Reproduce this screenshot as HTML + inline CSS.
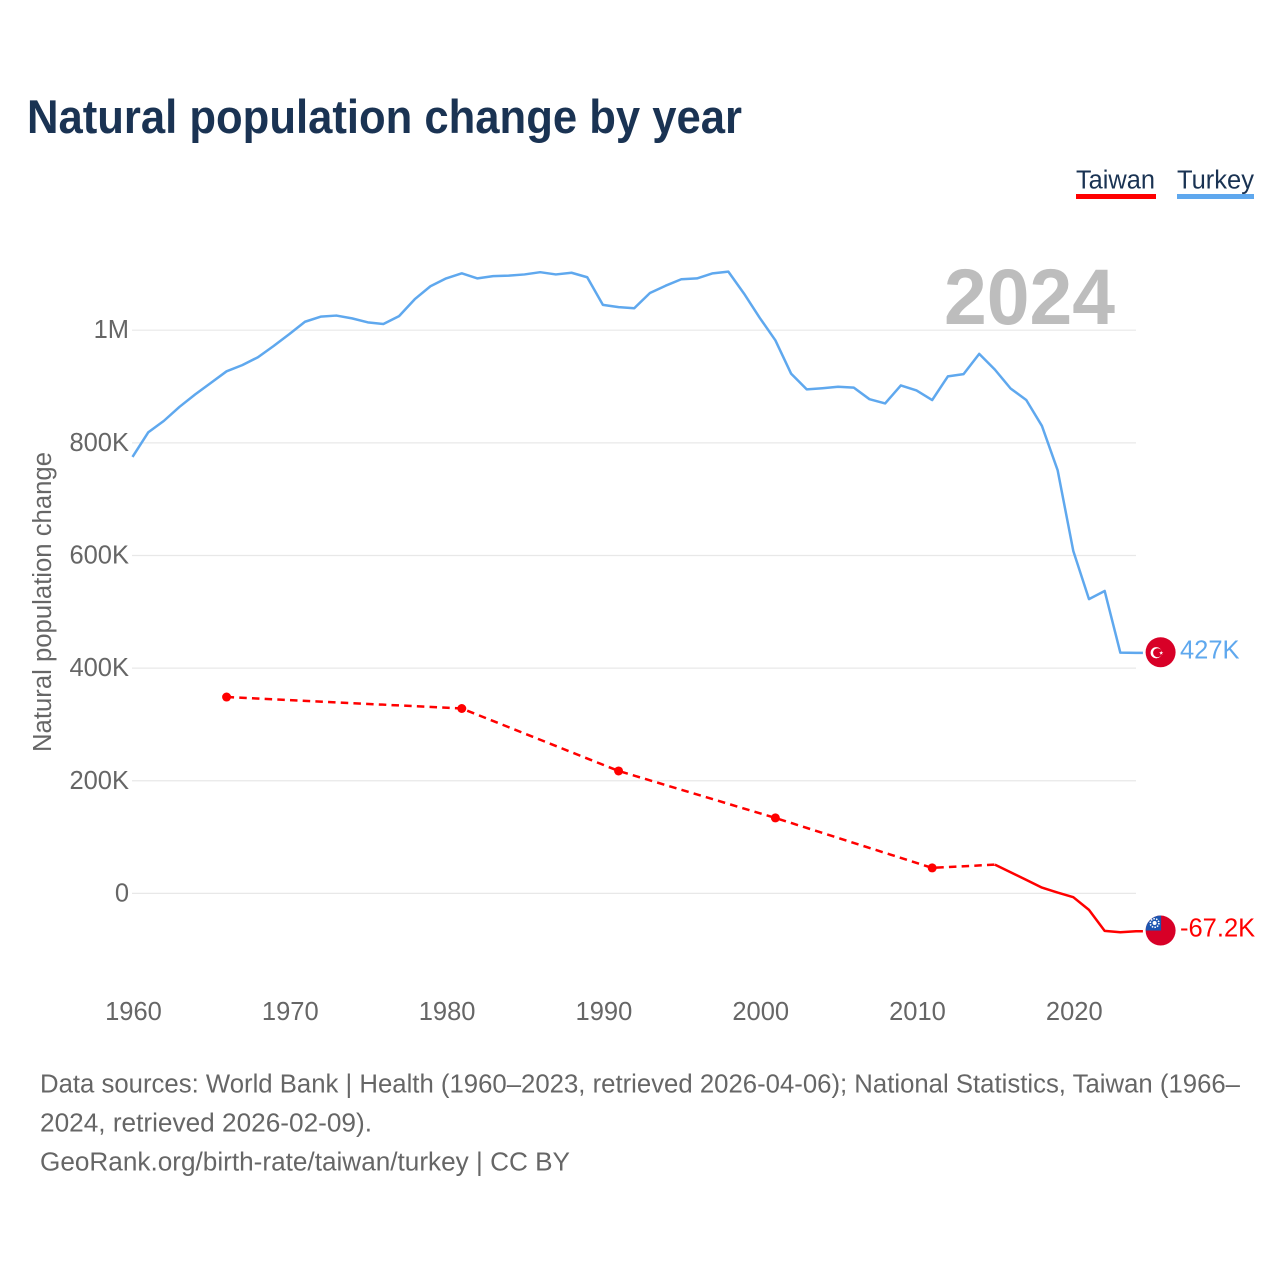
<!DOCTYPE html>
<html lang="en">
<head>
<meta charset="utf-8">
<title>Natural population change by year</title>
<style>
  html, body { margin: 0; padding: 0; background: #ffffff; }
  svg { display: block; font-family: "Liberation Sans", Arial, sans-serif; }
</style>
</head>
<body>
<svg id="chart" xmlns="http://www.w3.org/2000/svg" width="1280" height="1280" viewBox="0 0 1280 1280">
  <defs>
    <clipPath id="taiwan-clip"><circle cx="0" cy="0" r="15"></circle></clipPath>
  </defs>
  <rect x="0" y="0" width="1280" height="1280" fill="#ffffff"></rect>

  <text x="27" y="133" font-size="47" font-weight="700" fill="#1a3353" textLength="715" lengthAdjust="spacingAndGlyphs">Natural population change by year</text>

  <g>
    <g>
      <text x="1076" y="188.5" font-size="25.5" fill="#1a3353" textLength="79" lengthAdjust="spacingAndGlyphs">Taiwan</text>
      <rect x="1076" y="194" width="80" height="5" fill="#ff0000"></rect>
    </g>
    <g>
      <text x="1177" y="188.5" font-size="25.5" fill="#1a3353" textLength="77" lengthAdjust="spacingAndGlyphs">Turkey</text>
      <rect x="1177" y="194" width="77" height="5" fill="#5fa8ee"></rect>
    </g>
  </g>

  <g id="grid"></g>
  <g id="y-ticks"></g>
  <g id="x-ticks"></g>

  <text transform="translate(51 602) rotate(-90)" text-anchor="middle" font-size="25.5" fill="#666666" textLength="300" lengthAdjust="spacingAndGlyphs">Natural population change</text>

  <text x="944" y="324" font-size="79" font-weight="700" fill="#bdbdbd" textLength="171" lengthAdjust="spacingAndGlyphs">2024</text>

  <g id="series"></g>

  <g id="flag-turkey">
    <circle cx="0" cy="0" r="15" fill="#d80027"></circle>
    <circle cx="-4.4" cy="0.5" r="5.6" fill="#ffffff"></circle>
    <circle cx="-3" cy="0.5" r="4.5" fill="#d80027"></circle>
    <polygon points="0.6,-1.5 1.1,0 2.7,0 1.4,1 1.9,2.5 0.6,1.6 -0.7,2.5 -0.2,1 -1.5,0 0.1,0" fill="#ffffff"></polygon>
  </g>
  <g id="flag-taiwan">
    <circle cx="0" cy="0" r="15" fill="#d80027"></circle>
    <g clip-path="url(#taiwan-clip)">
      <rect x="-15" y="-15" width="15.5" height="15" fill="#1c55b0"></rect>
    </g>
    <circle cx="-6" cy="-7.5" r="4.3" fill="none" stroke="#ffffff" stroke-width="1.6" stroke-dasharray="1.5 1.2"></circle>
    <circle cx="-6" cy="-7.5" r="2" fill="#ffffff"></circle>
  </g>

  <text id="end-label-turkey" x="1180" y="658.5" font-size="25.5" fill="#5fa8ee"></text>
  <text id="end-label-taiwan" x="1180" y="937" font-size="25.5" fill="#ff0000"></text>

  <g font-size="25.5" fill="#666666">
    <text x="40" y="1092.5" textLength="1200" lengthAdjust="spacingAndGlyphs">Data sources: World Bank | Health (1960–2023, retrieved 2026-04-06); National Statistics, Taiwan (1966–</text>
    <text x="40" y="1131.5" textLength="332" lengthAdjust="spacingAndGlyphs">2024, retrieved 2026-02-09).</text>
    <text x="40" y="1170.5" textLength="530" lengthAdjust="spacingAndGlyphs">GeoRank.org/birth-rate/taiwan/turkey | CC BY</text>
  </g>
</svg>

<script>
const yTickValues = [0, 200, 400, 600, 800, 1000];
const yTickLabels = ["0", "200K", "400K", "600K", "800K", "1M"];
const xTickValues = [1960, 1970, 1980, 1990, 2000, 2010, 2020];
const xTickLabels = ["1960", "1970", "1980", "1990", "2000", "2010", "2020"];

const turkeyYears = [1960,1961,1962,1963,1964,1965,1966,1967,1968,1969,1970,1971,1972,1973,1974,1975,1976,1977,1978,1979,1980,1981,1982,1983,1984,1985,1986,1987,1988,1989,1990,1991,1992,1993,1994,1995,1996,1997,1998,1999,2000,2001,2002,2003,2004,2005,2006,2007,2008,2009,2010,2011,2012,2013,2014,2015,2016,2017,2018,2019,2020,2021,2022,2023,2024];
const turkeyValues = [775,818.5,839,864,886,906.5,927,938,952,972,993,1015,1024,1026,1021,1014,1011,1025,1055,1078,1092,1101,1092,1096,1097,1099,1103,1099,1102,1094,1045,1041,1039,1066,1079,1090.5,1092,1101,1104,1065,1022,982,923,895,897,899.5,898,877.5,870,902,893,876,918,922,958,930,896.5,876,830,751.5,608,522.5,537,427.5,427];

const taiwanDashedYears = [1966,1981,1991,2001,2011,2015];
const taiwanDashedValues = [348.7,328.3,217.4,134,45.3,51.1];
const taiwanDotYears = [1966,1981,1991,2001,2011];
const taiwanDotValues = [348.7,328.3,217.4,134,45.3];
const taiwanSolidYears = [2015,2016,2017,2018,2019,2020,2021,2022,2023,2024];
const taiwanSolidValues = [51.1,37.6,24,10.3,1.4,-6.7,-29.3,-66.5,-68.9,-67.2];

const turkeyEndLabel = "427K";
const taiwanEndLabel = "-67.2K";

const SVG_NS = "http://www.w3.org/2000/svg";
const xScale = function (year) { return 132.5 + (year - 1960) * 15.68; };
const yScale = function (value) { return 893.4 - value * 0.5632; };
const flagX = 1160.6;
const flagDy = -0.7;
const connectorYear = 2024.44;

function pathFrom(years, values) {
  return years.map(function (yr, i) {
    return (i ? "L" : "M") + xScale(yr).toFixed(2) + " " + yScale(values[i]).toFixed(2);
  }).join(" ");
}

const gridLayer = document.getElementById("grid");
const yTickLayer = document.getElementById("y-ticks");
const xTickLayer = document.getElementById("x-ticks");
const seriesLayer = document.getElementById("series");

yTickValues.forEach(function (v, i) {
  const line = document.createElementNS(SVG_NS, "line");
  
  
  line.setAttribute("x1", 132);
  line.setAttribute("x2", 1136);
  line.setAttribute("y1", yScale(v));
  line.setAttribute("y2", yScale(v));
  line.setAttribute("stroke", "#e8e8e8");
  line.setAttribute("stroke-width", "1.2");
  gridLayer.appendChild(line);

  const label = document.createElementNS(SVG_NS, "text");
  
  
  label.setAttribute("x", 129);
  label.setAttribute("y", yScale(v) + 8);
  label.setAttribute("text-anchor", "end");
  label.setAttribute("font-size", "25.5");
  label.setAttribute("fill", "#666666");
  label.textContent = yTickLabels[i];
  yTickLayer.appendChild(label);
});

xTickValues.forEach(function (yr, i) {
  const label = document.createElementNS(SVG_NS, "text");
  
  
  label.setAttribute("x", xScale(yr) + 1);
  label.setAttribute("y", 1020);
  label.setAttribute("text-anchor", "middle");
  label.setAttribute("font-size", "25.5");
  label.setAttribute("fill", "#666666");
  label.textContent = xTickLabels[i];
  xTickLayer.appendChild(label);
});

const turkeyLine = document.createElementNS(SVG_NS, "path");


turkeyLine.setAttribute("d", pathFrom(turkeyYears.concat([connectorYear]), turkeyValues.concat([turkeyValues[turkeyValues.length - 1]])));
turkeyLine.setAttribute("fill", "none");
turkeyLine.setAttribute("stroke", "#5fa8ee");
turkeyLine.setAttribute("stroke-width", "2.5");
turkeyLine.setAttribute("stroke-linejoin", "round");
seriesLayer.appendChild(turkeyLine);

const taiwanDashed = document.createElementNS(SVG_NS, "path");


taiwanDashed.setAttribute("d", pathFrom(taiwanDashedYears, taiwanDashedValues));
taiwanDashed.setAttribute("fill", "none");
taiwanDashed.setAttribute("stroke", "#ff0000");
taiwanDashed.setAttribute("stroke-width", "2.5");
taiwanDashed.setAttribute("stroke-dasharray", "7.5 5.2");
seriesLayer.appendChild(taiwanDashed);

const taiwanSolid = document.createElementNS(SVG_NS, "path");


taiwanSolid.setAttribute("d", pathFrom(taiwanSolidYears.concat([connectorYear]), taiwanSolidValues.concat([taiwanSolidValues[taiwanSolidValues.length - 1]])));
taiwanSolid.setAttribute("fill", "none");
taiwanSolid.setAttribute("stroke", "#ff0000");
taiwanSolid.setAttribute("stroke-width", "2.5");
taiwanSolid.setAttribute("stroke-linejoin", "round");
seriesLayer.appendChild(taiwanSolid);

taiwanDotYears.forEach(function (yr, i) {
  const dot = document.createElementNS(SVG_NS, "circle");
  
  
  dot.setAttribute("cx", xScale(yr));
  dot.setAttribute("cy", yScale(taiwanDotValues[i]));
  dot.setAttribute("r", "4.5");
  dot.setAttribute("fill", "#ff0000");
  seriesLayer.appendChild(dot);
});

const lastTurkey = turkeyValues[turkeyValues.length - 1];
const lastTaiwan = taiwanSolidValues[taiwanSolidValues.length - 1];
document.getElementById("flag-turkey").setAttribute("transform", "translate(" + flagX + " " + (yScale(lastTurkey) + flagDy) + ")");
document.getElementById("flag-taiwan").setAttribute("transform", "translate(" + flagX + " " + (yScale(lastTaiwan) + flagDy) + ")");
document.getElementById("end-label-turkey").textContent = turkeyEndLabel;
document.getElementById("end-label-turkey").setAttribute("y", yScale(lastTurkey) + 5.5);
document.getElementById("end-label-taiwan").textContent = taiwanEndLabel;
document.getElementById("end-label-taiwan").setAttribute("y", yScale(lastTaiwan) + 5.5);
</script>
</body>
</html>
